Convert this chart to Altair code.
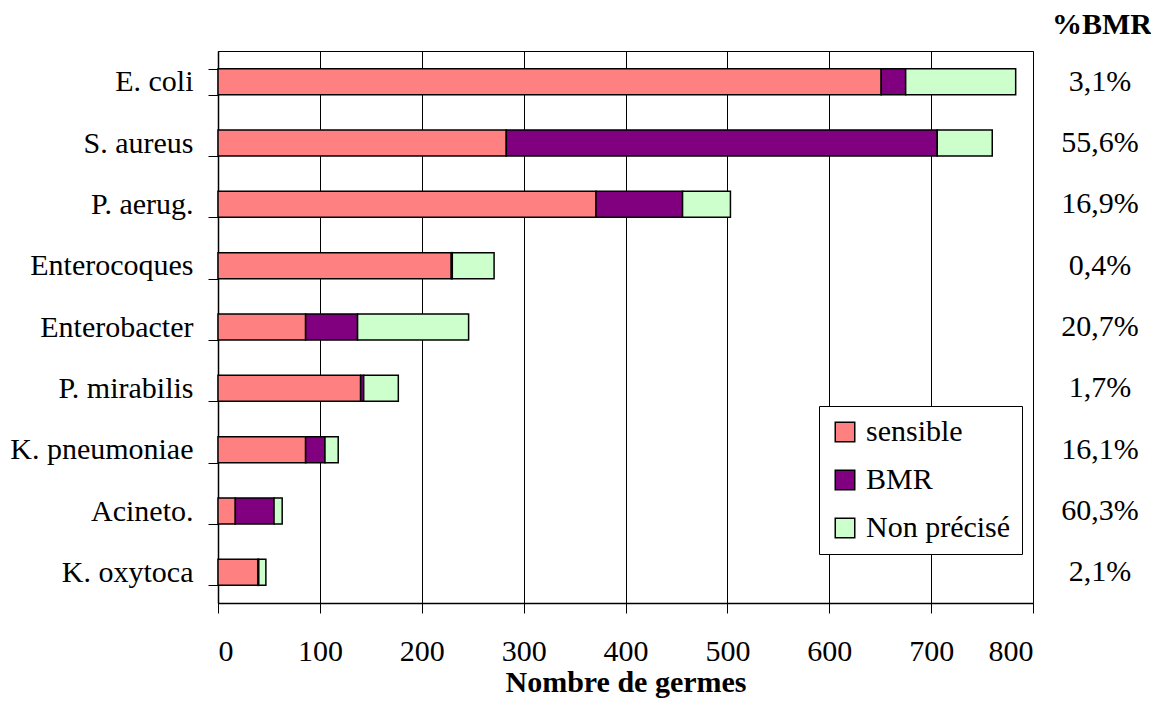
import altair as alt
import pandas as pd

categories = ["E. coli", "S. aureus", "P. aerug.", "Enterocoques", "Enterobacter",
              "P. mirabilis", "K. pneumoniae", "Acineto.", "K. oxytoca"]
sensible = [651, 283, 371, 229, 86, 140, 86, 17, 39]
bmr = [24, 423, 85, 1, 51, 3, 19, 38, 1]
non_precise = [108, 54, 47, 41, 109, 34, 13, 8, 7]
pct_bmr = ["3,1%", "55,6%", "16,9%", "0,4%", "20,7%", "1,7%", "16,1%", "60,3%", "2,1%"]

series_names = ["sensible", "BMR", "Non précisé"]
series_colors = ["#FF8080", "#800080", "#CCFFCC"]
x_ticks = [0, 100, 200, 300, 400, 500, 600, 700, 800]

rows = []
for i, c in enumerate(categories):
    for j, (name, vals) in enumerate(zip(series_names, [sensible, bmr, non_precise])):
        rows.append({"germe": c, "type": name, "n": vals[i], "ordre": j})
df = pd.DataFrame(rows)
df_pct = pd.DataFrame({"germe": categories, "pct": pct_bmr})

FONT = "Liberation Serif, Times New Roman, DejaVu Serif, serif"

y_enc = alt.Y(
    "germe:N",
    sort=categories,
    scale=alt.Scale(paddingInner=0.575, paddingOuter=0.2875),
    axis=alt.Axis(title=None, tickBand="extent", tickSize=10, labelPadding=15,
                  labelLimit=400, grid=False),
)

bars = alt.Chart(df).mark_bar(stroke="black", strokeWidth=1.5).encode(
    x=alt.X(
        "n:Q",
        stack="zero",
        scale=alt.Scale(domain=[0, 800], nice=False),
        axis=alt.Axis(values=x_ticks, title="Nombre de germes", grid=True,
                      gridColor="black", gridOpacity=1, tickSize=10, labelPadding=23,
                      titlePadding=1, titleFontWeight="bold", format="d"),
    ),
    y=y_enc,
    color=alt.Color(
        "type:N",
        scale=alt.Scale(domain=series_names, range=series_colors),
        legend=alt.Legend(
            title=None, orient="none", legendX=601, legendY=355,
            strokeColor="black", fillColor="white", padding=11,
            symbolType="square", symbolSize=380, symbolStrokeColor="black",
            symbolStrokeWidth=1.5, labelFont=FONT, labelFontSize=30,
            labelColor="black", rowPadding=18, labelOffset=6, labelLimit=300,
        ),
    ),
    order=alt.Order("ordre:Q"),
)

text = alt.Chart(df_pct).mark_text(
    font=FONT, fontSize=30, align="center", baseline="middle", color="black"
).encode(
    y=y_enc,
    x=alt.value(882),
    text="pct:N",
)

chart = alt.layer(bars, text).properties(
    width=815,
    height=552,
    autosize=alt.AutoSizeParams(type="none"),
    padding={"left": 210, "top": 43, "right": 118, "bottom": 95},
    title=alt.TitleParams("%BMR", anchor="end", frame="group", dx=119, dy=12, offset=8,
                          fontSize=30, font=FONT, fontWeight="bold", color="black"),
).configure_view(
    stroke="black", strokeWidth=1
).configure_axis(
    labelFont=FONT, titleFont=FONT, labelFontSize=30, titleFontSize=30,
    labelColor="black", titleColor="black", domainColor="black",
    tickColor="black", domainWidth=1.5,
)

chart.save("out.html", embed_options={"renderer": "svg", "actions": False})
